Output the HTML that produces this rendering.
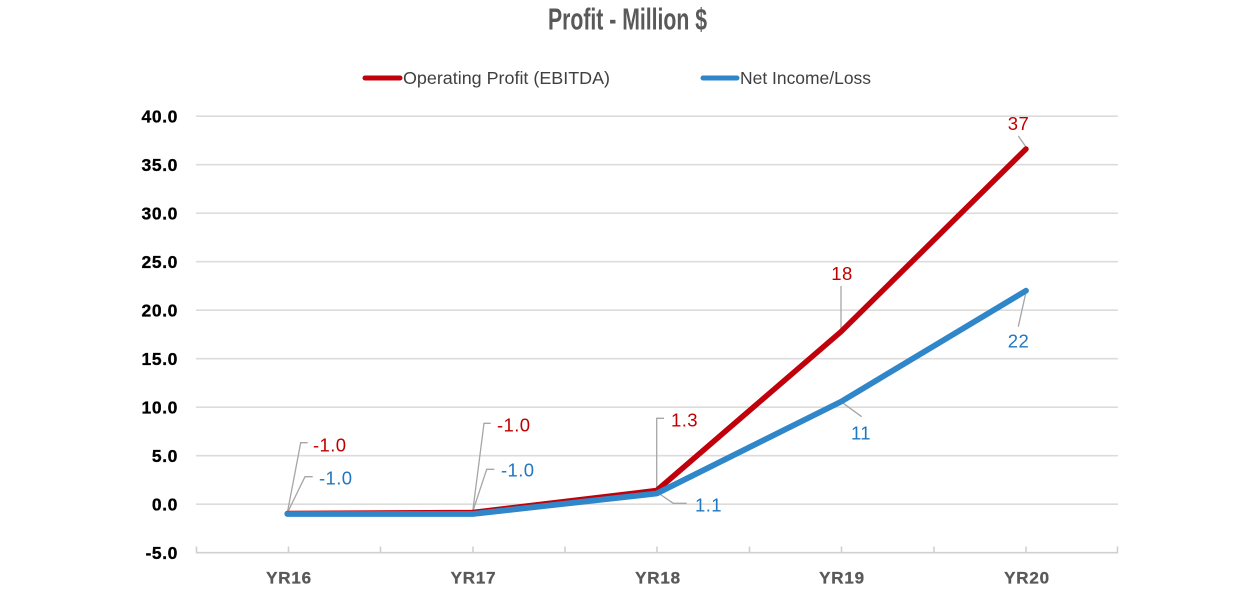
<!DOCTYPE html>
<html>
<head>
<meta charset="utf-8">
<style>
  html, body { margin: 0; padding: 0; background: #ffffff; }
  svg { display: block; }
  text { font-family: "Liberation Sans", "DejaVu Sans", sans-serif; }
</style>
</head>
<body>
<svg width="1255" height="607" viewBox="0 0 1255 607" xmlns="http://www.w3.org/2000/svg">
  <rect x="0" y="0" width="1255" height="607" fill="#ffffff"/>

  <!-- Title -->
  <text x="548" y="29.5" font-size="31" font-weight="bold" fill="#595959" textLength="159" lengthAdjust="spacingAndGlyphs">Profit - Million $</text>

  <!-- Legend -->
  <line x1="365" y1="78" x2="400" y2="78" stroke="#C0000B" stroke-width="5" stroke-linecap="round"/>
  <text x="403" y="84" font-size="17.5" fill="#404040" textLength="207" lengthAdjust="spacingAndGlyphs">Operating Profit (EBITDA)</text>
  <line x1="703" y1="78" x2="737" y2="78" stroke="#2F87C9" stroke-width="5" stroke-linecap="round"/>
  <text x="740" y="84" font-size="17.5" fill="#404040" textLength="131" lengthAdjust="spacingAndGlyphs">Net Income/Loss</text>

  <!-- Gridlines -->
  <g stroke="#dcdcdc" stroke-width="1.6">
    <line x1="196" y1="116.2" x2="1118" y2="116.2"/>
    <line x1="196" y1="164.7" x2="1118" y2="164.7"/>
    <line x1="196" y1="213.2" x2="1118" y2="213.2"/>
    <line x1="196" y1="261.7" x2="1118" y2="261.7"/>
    <line x1="196" y1="310.2" x2="1118" y2="310.2"/>
    <line x1="196" y1="358.7" x2="1118" y2="358.7"/>
    <line x1="196" y1="407.2" x2="1118" y2="407.2"/>
    <line x1="196" y1="455.7" x2="1118" y2="455.7"/>
    <line x1="196" y1="504.2" x2="1118" y2="504.2"/>
  </g>
  <!-- X axis -->
  <g stroke="#d0d0d0" stroke-width="1.6">
    <line x1="196" y1="552.7" x2="1118" y2="552.7"/>
    <line x1="196.5" y1="546.5" x2="196.5" y2="552.7"/>
    <line x1="288.5" y1="546.5" x2="288.5" y2="552.7"/>
    <line x1="380.5" y1="546.5" x2="380.5" y2="552.7"/>
    <line x1="473" y1="546.5" x2="473" y2="552.7"/>
    <line x1="565" y1="546.5" x2="565" y2="552.7"/>
    <line x1="657" y1="546.5" x2="657" y2="552.7"/>
    <line x1="749.5" y1="546.5" x2="749.5" y2="552.7"/>
    <line x1="841.5" y1="546.5" x2="841.5" y2="552.7"/>
    <line x1="934" y1="546.5" x2="934" y2="552.7"/>
    <line x1="1026" y1="546.5" x2="1026" y2="552.7"/>
    <line x1="1117.5" y1="546.5" x2="1117.5" y2="552.7"/>
  </g>

  <!-- Y labels -->
  <g font-size="17.5" font-weight="bold" fill="#000000" text-anchor="end" letter-spacing="0.6" stroke="#000" stroke-width="0.3">
    <text x="178" y="122.3">40.0</text>
    <text x="178" y="170.8">35.0</text>
    <text x="178" y="219.3">30.0</text>
    <text x="178" y="267.8">25.0</text>
    <text x="178" y="316.3">20.0</text>
    <text x="178" y="364.8">15.0</text>
    <text x="178" y="413.3">10.0</text>
    <text x="178" y="461.8">5.0</text>
    <text x="178" y="510.3">0.0</text>
    <text x="178" y="558.8">-5.0</text>
  </g>

  <!-- X labels -->
  <g font-size="17" font-weight="bold" fill="#595959" text-anchor="middle" letter-spacing="0.8" stroke="#595959" stroke-width="0.3">
    <text x="289" y="583.5">YR16</text>
    <text x="473.5" y="583.5">YR17</text>
    <text x="658" y="583.5">YR18</text>
    <text x="842" y="583.5">YR19</text>
    <text x="1027" y="583.5">YR20</text>
  </g>

  <!-- Leader lines -->
  <g stroke="#a6a6a6" stroke-width="1.3" fill="none">
    <polyline points="287.3,513 300.7,442.7 307.7,442.7"/>
    <polyline points="287.3,513 305,476.7 312.7,476.7"/>
    <polyline points="472.7,511.7 484,423.3 490.7,423.3"/>
    <polyline points="472.7,511.7 486.7,469.3 494.3,469.3"/>
    <polyline points="656.7,490 656.7,418.3 664,418.3"/>
    <polyline points="656.7,492 673.3,503.3 686.7,503.3"/>
    <polyline points="841,331.7 841,286"/>
    <polyline points="841,401.7 861.7,416.7"/>
    <polyline points="1026,147 1018.3,136"/>
    <polyline points="1026,292 1018.3,326.7"/>
  </g>

  <!-- Series lines -->
  <polyline points="287.3,513.5 472.7,512.5 656.7,490.5 841,331.7 1026,149" fill="none" stroke="#C0000B" stroke-width="5.5" stroke-linejoin="round" stroke-linecap="round"/>
  <polyline points="287.3,514 472.7,514 656.7,493.5 841,401.7 1026,290.7" fill="none" stroke="#2F87C9" stroke-width="5.8" stroke-linejoin="round" stroke-linecap="round"/>

  <!-- Data labels -->
  <g font-size="18.5" fill="#C00000" letter-spacing="0.4">
    <text x="313" y="451.5">-1.0</text>
    <text x="497" y="431.5">-1.0</text>
    <text x="671" y="426.5">1.3</text>
    <text x="842" y="280" text-anchor="middle">18</text>
    <text x="1018.5" y="130" text-anchor="middle">37</text>
  </g>
  <g font-size="18.5" fill="#1F77C0" letter-spacing="0.4">
    <text x="319" y="484.5">-1.0</text>
    <text x="501" y="476.5">-1.0</text>
    <text x="695" y="511.5">1.1</text>
    <text x="861" y="439.5" text-anchor="middle">11</text>
    <text x="1018.5" y="347.5" text-anchor="middle">22</text>
  </g>
</svg>
</body>
</html>
